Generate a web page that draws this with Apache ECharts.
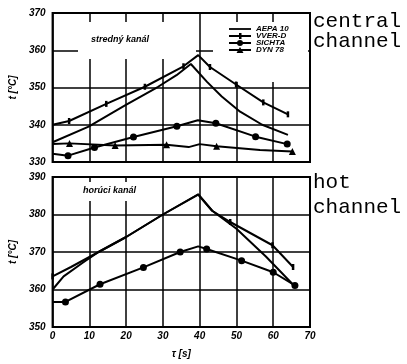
<!DOCTYPE html>
<html>
<head>
<meta charset="utf-8">
<script src="https://cdn.jsdelivr.net/npm/echarts@6/dist/echarts.min.js"></script>
<style>
  html, body { margin: 0; padding: 0; background: #fff; }
  #chart { width: 407px; height: 364px; }
</style>
</head>
<body>
<div id="chart"></div>
<script>
  // time axis [s]
  const xMin = 0, xMax = 70, xStep = 10
  const centralRange = [330, 370]
  const hotRange = [350, 390]
  const names = ['AEPA 10', 'VVER-D', 'SICHTA', 'DYN 78']

  // central channel  [tau, t]
  const centralAepa = [[0, 335.3], [9.8, 339.5], [19.7, 345.2], [28.7, 350.2], [33.7, 353.3], [37.6, 356.3], [42, 351.5], [46, 347.6], [51, 343.5], [57, 340], [64, 337.3]]
  const centralVver = [[0, 340], [4.5, 341], [14.6, 345.6], [25.1, 350.2], [35.6, 355.7], [39.6, 358.7], [42.8, 355.5], [49.9, 350.8], [57.3, 346], [64, 342.8]]
  const centralSichta = [[0, 332.2], [4.2, 331.7], [11.4, 333.9], [22, 336.7], [33.8, 339.6], [39.5, 341.2], [44.4, 340.4], [55.2, 336.8], [63.8, 334.8]]
  const centralDyn = [[0, 334.8], [4.6, 335], [17, 334.4], [31, 334.6], [37, 334], [40, 334.8], [44.6, 334.2], [56.4, 333.2], [65.2, 332.8]]

  // hot channel
  const hotAepa = [[0, 360], [3, 363.5], [8, 367], [12.5, 370], [20, 374], [30, 380], [39.6, 385.4], [43.4, 381], [50, 376.2], [58, 368.8], [65.5, 361.2]]
  const hotVver = [[0, 363.5], [5, 366], [12.5, 370], [20, 374], [30, 380], [39.6, 385.3], [43.4, 381], [48.3, 378], [59.8, 371.8], [65.4, 366]]
  const hotSichta = [[0, 356.7], [3.5, 356.7], [12.9, 361.4], [24.7, 365.9], [34.7, 370], [39.6, 371.5], [41.9, 370.8], [51.4, 367.7], [60, 364.6], [65.9, 361.1]]

  const font = 'Liberation Sans, Arial, sans-serif'
  const lblStyle = { color: '#000', fontSize: 10, fontStyle: 'italic', fontWeight: 'bold', fontFamily: font }

  // legend icons: line sample with its marker
  const bar = 'M0,2.1H22V3.9H0Z'
  const icons = [
    'path://M0,0H22V1.8H0Z',
    'path://' + bar + 'M10,0H12.5V6H10Z',
    'path://' + bar + 'M8,3A3,3 0 1,1 14,3A3,3 0 1,1 8,3Z',
    'path://' + bar + 'M11,0L14.5,6H7.5Z',
  ]

  // marker helper: some points in the scan have no marker
  const mark = (sym, bare) => (v, p) => (bare.indexOf(p.dataIndex) >= 0 ? 'none' : sym)

  const line = (name, data, gi, symbol, size, bare) => ({
    name: name,
    type: 'line',
    xAxisIndex: gi,
    yAxisIndex: gi,
    data: data,
    symbol: symbol === 'none' ? 'none' : mark(symbol, bare || []),
    symbolSize: size,
    showAllSymbol: true,
    lineStyle: { color: '#000', width: 2 },
    itemStyle: { color: '#000' },
    z: 3,
  })

  const chart = echarts.init(document.getElementById('chart'))
  const option = {
    animation: false,
    backgroundColor: '#fff',
    grid: [
      { left: 51, top: 13, width: 259, height: 149, show: true, borderColor: '#000', borderWidth: 2 },
      { left: 51, top: 177, width: 259, height: 150, show: true, borderColor: '#000', borderWidth: 2 },
    ],
    xAxis: [0, 1].map(i => ({
      gridIndex: i,
      type: 'value',
      min: xMin,
      max: xMax,
      interval: xStep,
      axisLine: { show: false },
      axisTick: { show: false },
      axisLabel: Object.assign({ show: i === 1, margin: 4 }, lblStyle),
      splitLine: { lineStyle: { color: '#000', width: 1.5 } },
      name: i === 1 ? 'τ [s]' : '',
      nameLocation: 'middle',
      nameGap: 22,
      nameTextStyle: lblStyle,
    })),
    yAxis: [centralRange, hotRange].map((r, i) => ({
      gridIndex: i,
      type: 'value',
      min: r[0],
      max: r[1],
      interval: 10,
      axisLine: { show: false },
      axisTick: { show: false },
      axisLabel: Object.assign({ margin: 7 }, lblStyle),
      splitLine: { lineStyle: { color: '#000', width: 1.5 } },
      name: 't [°C]',
      nameLocation: 'middle',
      nameRotate: 90,
      nameGap: 34,
      nameTextStyle: lblStyle,
    })),
    legend: {
      data: names.map((n, i) => ({ name: n, icon: icons[i] })),
      orient: 'vertical',
      left: 229,
      top: 25,
      padding: 0,
      itemGap: -1,
      itemWidth: 22,
      itemHeight: 6,
      itemStyle: { color: '#000' },
      textStyle: { color: '#000', fontSize: 8, fontStyle: 'italic', fontWeight: 'bold', fontFamily: font },
    },
    graphic: {
      elements: [
        // cleared areas of the grid behind the labels
        { type: 'rect', z: 1, shape: { x: 78, y: 22, width: 118, height: 37 }, style: { fill: '#fff' } },
        { type: 'rect', z: 1, shape: { x: 213, y: 22, width: 95, height: 60 }, style: { fill: '#fff' } },
        { type: 'rect', z: 1, shape: { x: 78, y: 182, width: 70, height: 19 }, style: { fill: '#fff' } },
        { type: 'text', z: 5, style: { text: 'stredný kanál', x: 91, y: 35, fill: '#000', font: 'italic bold 9px ' + font } },
        { type: 'text', z: 5, style: { text: 'horúci kanál', x: 83, y: 186, fill: '#000', font: 'italic bold 9px ' + font } },
        { type: 'text', z: 5, style: { text: 'central', x: 313, y: 11, fill: '#000', font: '21px Liberation Mono, monospace' } },
        { type: 'text', z: 5, style: { text: 'channel', x: 313, y: 31, fill: '#000', font: '21px Liberation Mono, monospace' } },
        { type: 'text', z: 5, style: { text: 'hot', x: 313, y: 172, fill: '#000', font: '21px Liberation Mono, monospace' } },
        { type: 'text', z: 5, style: { text: 'channel', x: 313, y: 197, fill: '#000', font: '21px Liberation Mono, monospace' } },
      ],
    },
    series: [
      line(names[0], centralAepa, 0, 'none'),
      line(names[1], centralVver, 0, 'rect', [2.5, 6], [0, 5]),
      line(names[2], centralSichta, 0, 'circle', 7, [0, 5]),
      line(names[3], centralDyn, 0, 'triangle', 7, [0, 4, 5, 7]),
      line(names[0], hotAepa, 1, 'none'),
      line(names[1], hotVver, 1, 'rect', [2.5, 6], [1, 2, 3, 4, 5, 6]),
      line(names[2], hotSichta, 1, 'circle', 7, [0, 5]),
    ],
  }
  option && chart.setOption(option)
</script>
</body>
</html>
